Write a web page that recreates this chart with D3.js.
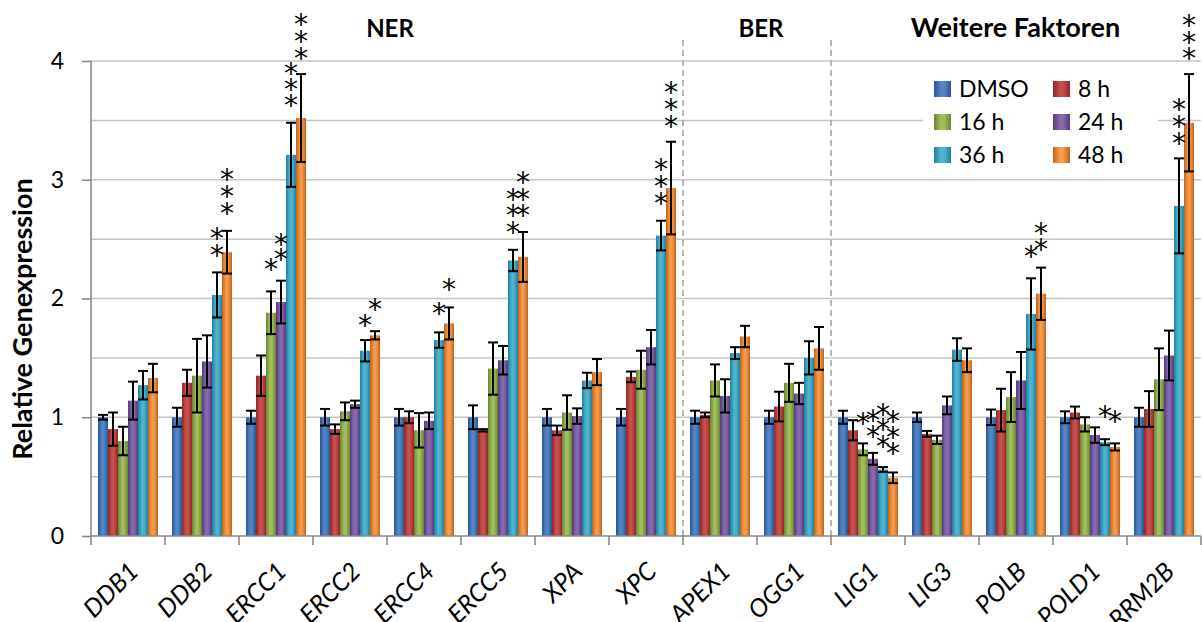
<!DOCTYPE html>
<html>
<head>
<meta charset="utf-8">
<script src="https://cdn.jsdelivr.net/npm/d3@7"></script>
<style>
  html, body { margin: 0; padding: 0; background: #fff; }
  svg { display: block; font-family: Lato, "Open Sans", sans-serif; }
</style>
</head>
<body>
<svg id="chart" width="1202" height="622"></svg>
<script>
// Gene list (x categories)
const genes = ["DDB1", "DDB2", "ERCC1", "ERCC2", "ERCC4", "ERCC5", "XPA", "XPC",
               "APEX1", "OGG1", "LIG1", "LIG3", "POLB", "POLD1", "RRM2B"];

// Treatment series
const seriesNames = ["DMSO", "8 h", "16 h", "24 h", "36 h", "48 h"];

// Relative expression per series (one value per gene)
const valDMSO = [1.00, 1.00, 1.00, 1.00, 1.00, 1.00, 1.00, 1.00, 1.00, 1.00, 1.00, 1.00, 1.00, 1.00, 1.00];
const val8h   = [0.90, 1.29, 1.35, 0.90, 1.00, 0.89, 0.89, 1.34, 1.02, 1.09, 0.89, 0.86, 1.06, 1.04, 1.07];
const val16h  = [0.80, 1.35, 1.88, 1.05, 0.89, 1.41, 1.04, 1.40, 1.31, 1.29, 0.73, 0.81, 1.17, 0.94, 1.32];
const val24h  = [1.14, 1.47, 1.97, 1.11, 0.97, 1.48, 1.01, 1.59, 1.18, 1.20, 0.65, 1.10, 1.31, 0.85, 1.52];
const val36h  = [1.27, 2.03, 3.21, 1.56, 1.65, 2.32, 1.31, 2.53, 1.54, 1.50, 0.56, 1.57, 1.87, 0.79, 2.78];
const val48h  = [1.33, 2.39, 3.52, 1.69, 1.79, 2.35, 1.38, 2.93, 1.68, 1.58, 0.49, 1.48, 2.04, 0.75, 3.48];

// Error bar half-widths per series
const errDMSO = [0.02, 0.08, 0.055, 0.07, 0.07, 0.10, 0.07, 0.07, 0.055, 0.055, 0.055, 0.04, 0.065, 0.05, 0.08];
const err8h   = [0.14, 0.11, 0.17, 0.04, 0.05, 0.01, 0.04, 0.045, 0.02, 0.125, 0.085, 0.025, 0.18, 0.05, 0.15];
const err16h  = [0.12, 0.31, 0.18, 0.075, 0.145, 0.22, 0.145, 0.16, 0.135, 0.16, 0.05, 0.035, 0.21, 0.06, 0.26];
const err24h  = [0.16, 0.22, 0.18, 0.03, 0.07, 0.12, 0.065, 0.145, 0.14, 0.09, 0.05, 0.075, 0.24, 0.065, 0.21];
const err36h  = [0.12, 0.19, 0.27, 0.09, 0.065, 0.09, 0.065, 0.125, 0.05, 0.14, 0.02, 0.095, 0.30, 0.025, 0.40];
const err48h  = [0.12, 0.18, 0.37, 0.035, 0.135, 0.21, 0.11, 0.39, 0.09, 0.18, 0.045, 0.10, 0.22, 0.03, 0.41];

const seriesValues = [valDMSO, val8h, val16h, val24h, val36h, val48h];
const seriesErrors = [errDMSO, err8h, err16h, err24h, err36h, err48h];

// Y axis tick labels and gridline steps
const yTicks = [0, 1, 2, 3, 4];
const yGrid = [0.5, 1, 1.5, 2, 2.5, 3, 3.5, 4];

// Significance marks: gene, series index, level of each asterisk
const sigGene   = ["DDB2", "DDB2", "ERCC1", "ERCC1", "ERCC1", "ERCC1", "ERCC2", "ERCC2", "ERCC4", "ERCC4",
                   "ERCC5", "ERCC5", "XPC", "XPC", "LIG1", "LIG1", "LIG1", "LIG1",
                   "POLB", "POLB", "POLD1", "POLD1", "RRM2B", "RRM2B"];
const sigSeries = [4, 5, 2, 3, 4, 5, 4, 5, 4, 5, 4, 5, 4, 5, 2, 3, 4, 5, 4, 5, 4, 5, 4, 5];
const sigLevels = [
  [2.557, 2.417], [3.054, 2.914, 2.773],
  [2.295], [2.512, 2.379], [3.952, 3.812, 3.680], [4.360, 4.219, 4.078],
  [1.827], [1.962],
  [1.930], [2.128],
  [2.891, 2.751, 2.611], [3.032, 2.891, 2.751],
  [3.138, 2.998, 2.857], [3.789, 3.646, 3.503],
  [1.005], [1.027, 0.893], [1.075, 0.949, 0.808], [1.019, 0.887, 0.752],
  [2.406], [2.605, 2.465],
  [1.061], [1.019],
  [3.644, 3.503, 3.357], [4.354, 4.211, 4.076]
];

// Pathway group headers and the genes they sit over
const groupNames = ["NER", "BER", "Weitere Faktoren"];
const groupFirst = ["ERCC2", "APEX1", "LIG3"];
const groupLast  = ["ERCC4", "OGG1", "POLD1"];

// Bar colours: [edge shade, centre highlight]
const barColors = [
  ["#2a5690", "#5085c6"],
  ["#8c2826", "#c74f4c"],
  ["#68842f", "#a0c05c"],
  ["#543b7a", "#8869ae"],
  ["#20809b", "#4cb4cf"],
  ["#bf631a", "#f89a4a"]
];

const svg = d3.select("#chart");
const W = 1202, H = 622;
const plot = { left: 91, right: 1201, top: 61, bottom: 536 };

const x0 = d3.scaleBand().domain(genes).range([plot.left, plot.right]).padding(0);
const x1 = d3.scaleBand().domain(d3.range(seriesNames.length))
  .range([0, x0.bandwidth()]).paddingInner(0).paddingOuter(0.7);
const y = d3.scaleLinear().domain([0, 4]).range([plot.bottom, plot.top]);

// Gradients for the shaded bars
const defs = svg.append("defs");
barColors.forEach((c, i) => {
  const g = defs.append("linearGradient").attr("id", "bar" + i)
    .attr("x1", 0).attr("x2", 1).attr("y1", 0).attr("y2", 0);
  g.append("stop").attr("offset", "0%").attr("stop-color", c[0]);
  g.append("stop").attr("offset", "40%").attr("stop-color", c[1]);
  g.append("stop").attr("offset", "60%").attr("stop-color", c[1]);
  g.append("stop").attr("offset", "100%").attr("stop-color", c[0]);
});

svg.append("rect").attr("width", W).attr("height", H).attr("fill", "#fff");

// Horizontal gridlines
svg.append("g").selectAll("line").data(yGrid).join("line")
  .attr("x1", plot.left).attr("x2", plot.right)
  .attr("y1", d => y(d)).attr("y2", d => y(d))
  .attr("stroke", "#c4c4c4").attr("stroke-width", 1.5);

// Dashed separators between pathway groups
const sepGenes = ["APEX1", "LIG1"];
svg.append("g").selectAll("line").data(sepGenes).join("line")
  .attr("x1", d => x0(d)).attr("x2", d => x0(d))
  .attr("y1", 40).attr("y2", plot.bottom)
  .attr("stroke", "#a6a6a6").attr("stroke-width", 1.6)
  .attr("stroke-dasharray", "6,4");

// Legend background
const legend = svg.append("g");
legend.append("rect").attr("x", 923).attr("y", 64).attr("width", 235).attr("height", 113)
  .attr("fill", "#fff");

// Bars
const barG = svg.append("g");
genes.forEach((gene, gi) => {
  seriesValues.forEach((vals, si) => {
    const v = vals[gi];
    barG.append("rect")
      .attr("x", x0(gene) + x1(si))
      .attr("y", y(v))
      .attr("width", x1.bandwidth())
      .attr("height", y(0) - y(v))
      .attr("fill", `url(#bar${si})`);
  });
});

// Error bars
const errG = svg.append("g").attr("stroke", "#000").attr("stroke-width", 2).attr("fill", "none");
genes.forEach((gene, gi) => {
  seriesValues.forEach((vals, si) => {
    const v = vals[gi], e = seriesErrors[si][gi];
    const cx = x0(gene) + x1(si) + x1.bandwidth() / 2;
    const hw = x1.bandwidth() / 2;
    errG.append("line").attr("x1", cx).attr("x2", cx).attr("y1", y(v + e)).attr("y2", y(v - e));
    errG.append("line").attr("x1", cx - hw).attr("x2", cx + hw).attr("y1", y(v + e)).attr("y2", y(v + e));
    errG.append("line").attr("x1", cx - hw).attr("x2", cx + hw).attr("y1", y(v - e)).attr("y2", y(v - e));
  });
});

// Y axis
const yAxis = d3.axisLeft(y).tickValues(yTicks).tickSize(9).tickPadding(18).tickFormat(d3.format("d"));
const yG = svg.append("g").attr("transform", `translate(${plot.left},0)`).call(yAxis);
yG.select(".domain").attr("stroke", "#8a8a8a").attr("stroke-width", 1.6).attr("d", `M0,${plot.top}V${plot.bottom}`);
yG.selectAll(".tick line").attr("stroke", "#8a8a8a").attr("stroke-width", 1.6);
yG.selectAll(".tick text").attr("font-size", 23).attr("fill", "#000").attr("font-family", "Lato");

// X axis with ticks on category boundaries
const xAxis = d3.axisBottom(x0).tickSize(0).tickPadding(0);
const xG = svg.append("g").attr("transform", `translate(0,${plot.bottom})`).call(xAxis);
xG.select(".domain").attr("stroke", "#8a8a8a").attr("stroke-width", 1.6).attr("d", `M${plot.left},0H${plot.right}`);
xG.selectAll(".tick text")
  .attr("font-size", 25).attr("font-style", "italic").attr("fill", "#000").attr("font-family", "Lato")
  .attr("text-anchor", "end").attr("y", 0).attr("dy", 0)
  .attr("transform", `translate(12,37) rotate(-45)`);
xG.append("g").selectAll("line").data(genes.map(g => x0(g)).concat([plot.right])).join("line")
  .attr("x1", d => d).attr("x2", d => d).attr("y1", 0).attr("y2", 9)
  .attr("stroke", "#8a8a8a").attr("stroke-width", 1.6);

// Y axis title
svg.append("text")
  .attr("transform", `translate(32,319) rotate(-90)`)
  .attr("text-anchor", "middle")
  .attr("font-size", 27).attr("font-weight", "bold")
  .text("Relative Genexpression");

// Group headers
svg.append("g").selectAll("text").data(groupNames).join("text")
  .attr("x", (d, i) => (x0(groupFirst[i]) + x0(groupLast[i]) + x0.bandwidth()) / 2 + [3, 4, -0.5][i])
  .attr("y", 37)
  .attr("text-anchor", "middle")
  .attr("font-size", (d, i) => i === 2 ? 27 : 24).attr("font-weight", "bold")
  .text(d => d);

// Significance asterisks
const starSize = 28;
const starG = svg.append("g").attr("font-family", "DejaVu Sans").attr("font-size", starSize)
  .attr("text-anchor", "middle").attr("fill", "#000");
sigGene.forEach((gene, k) => {
  const si = sigSeries[k];
  const cx = x0(gene) + x1(si) + x1.bandwidth() / 2;
  sigLevels[k].forEach(lv => {
    starG.append("text").attr("x", cx).attr("y", y(lv) + starSize * 0.57).text("*");
  });
});

// Legend entries
const legX = [934, 1053], legY = [89, 122, 155];
seriesNames.forEach((name, i) => {
  const col = i % 2, row = Math.floor(i / 2);
  legend.append("rect").attr("x", legX[col]).attr("y", legY[row] - 8)
    .attr("width", 17).attr("height", 16).attr("fill", `url(#bar${i})`);
  legend.append("text").attr("x", legX[col] + 25).attr("y", legY[row] + 8)
    .attr("font-size", 23).text(name);
});
</script>
</body>
</html>
